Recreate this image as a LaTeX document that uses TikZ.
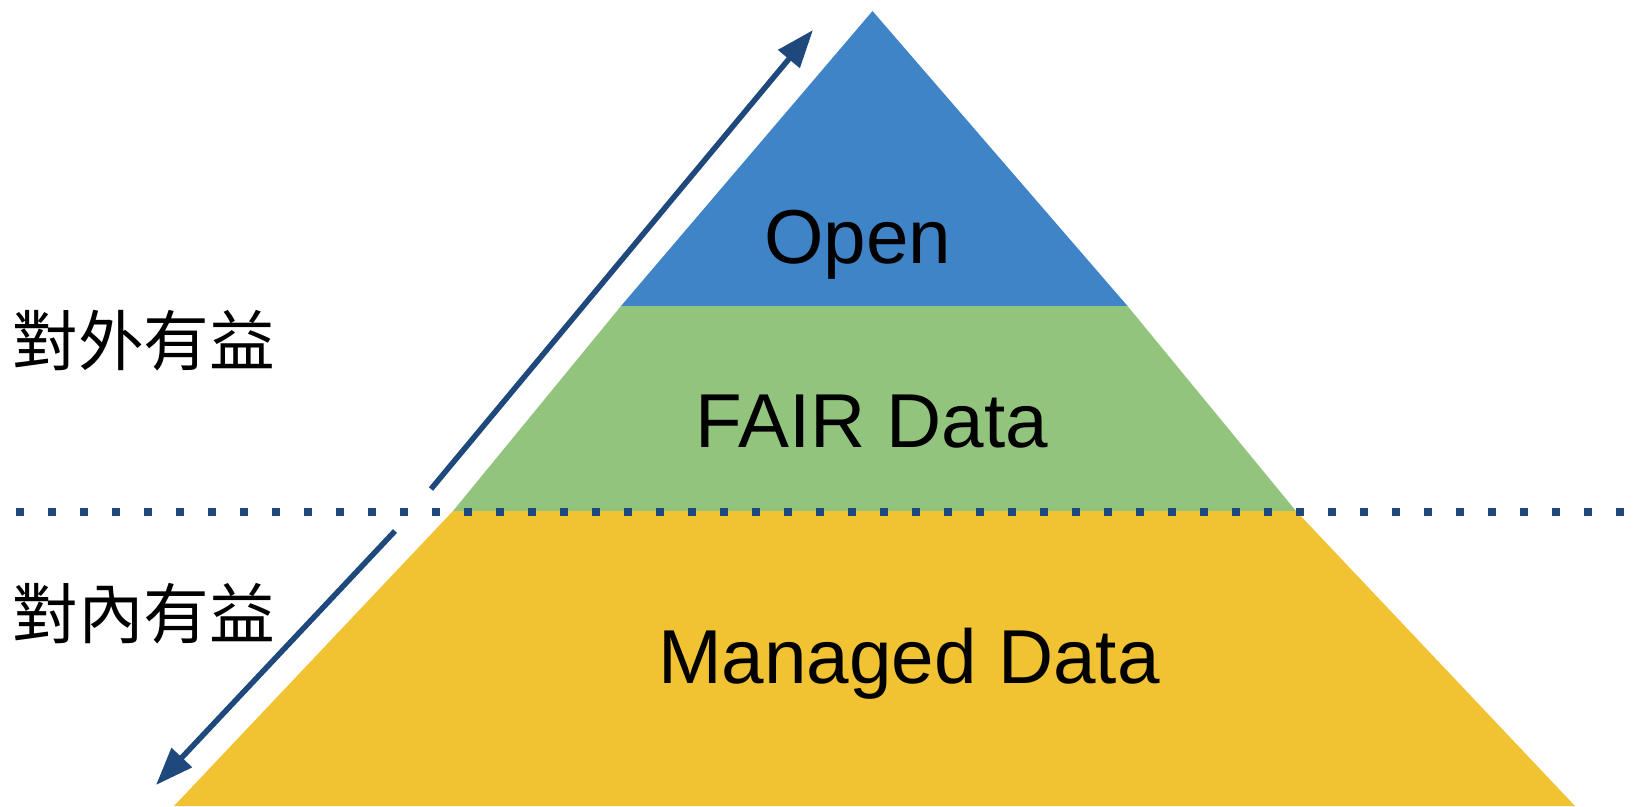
\documentclass[tikz,border=0pt]{standalone}
\usepackage{fontspec}
\setmainfont{Liberation Sans}
\newfontfamily\cjk{Noto Sans CJK TC}
\usetikzlibrary{arrows.meta}
\definecolor{openblue}{RGB}{63,132,198}
\definecolor{fairgreen}{RGB}{147,196,125}
\definecolor{managedyellow}{RGB}{241,194,50}
\definecolor{arrowblue}{RGB}{31,73,125}

\begin{document}
\begin{tikzpicture}[x=0.02cm, y=-0.02cm,
	arr/.style={draw=arrowblue, line width=3.13pt, -{Triangle[length=21.5pt, width=15.4pt]}},
	dotline/.style={draw=arrowblue, line width=0.16cm, dash pattern=on 0.16cm off 0.48cm},
	lbl/.style={inner sep=0pt, anchor=base, font=\fontsize{43.5}{50}\selectfont},
	side/.style={inner sep=0pt, anchor=base west, font=\cjk\fontsize{37.4}{44}\selectfont}]
			
			\useasboundingbox (0,0) rectangle (1648,806);
			
			\coordinate (T) at (872.5,11); 
			\coordinate (OL) at (621,306); 
			\coordinate (OR) at (1127.5,306);
			\coordinate (FL) at (453,511); 
			\coordinate (FR) at (1296,511);
			\coordinate (BL) at (174,806); 
			\coordinate (BR) at (1575,806);
			
			\coordinate (US) at (431,489); 
			\coordinate (UE) at (813,30); 
			\coordinate (DS) at (395,531); 
			\coordinate (DE) at (156,785); 
			\coordinate (DL) at (16,512); 
			\coordinate (DR) at (1648,512); 
			
			\fill[openblue] (T) -- (OR) -- (OL) -- cycle;
			\fill[fairgreen] (OL) -- (OR) -- (FR) -- (FL) -- cycle;
			\fill[managedyellow] (FL) -- (FR) -- (BR) -- (BL) -- cycle;
			
			\draw[arr] (US) -- (UE);
			\draw[arr] (DS) -- (DE);
			\draw[dotline] (DL) -- (DR);
			
			\node[lbl] (open) at (858,263) {Open};
			\node[lbl] (fair) at (872,447) {FAIR Data};
			\node[lbl] (managed) at (909,683) {Managed Data};
			
			%
			%%Labels on the left side.
			\node[side] (outer) at (12,365) {對外有益};
			\node[side] (inner) at (12,638) {對內有益};
			
		\end{tikzpicture}
\end{document}
